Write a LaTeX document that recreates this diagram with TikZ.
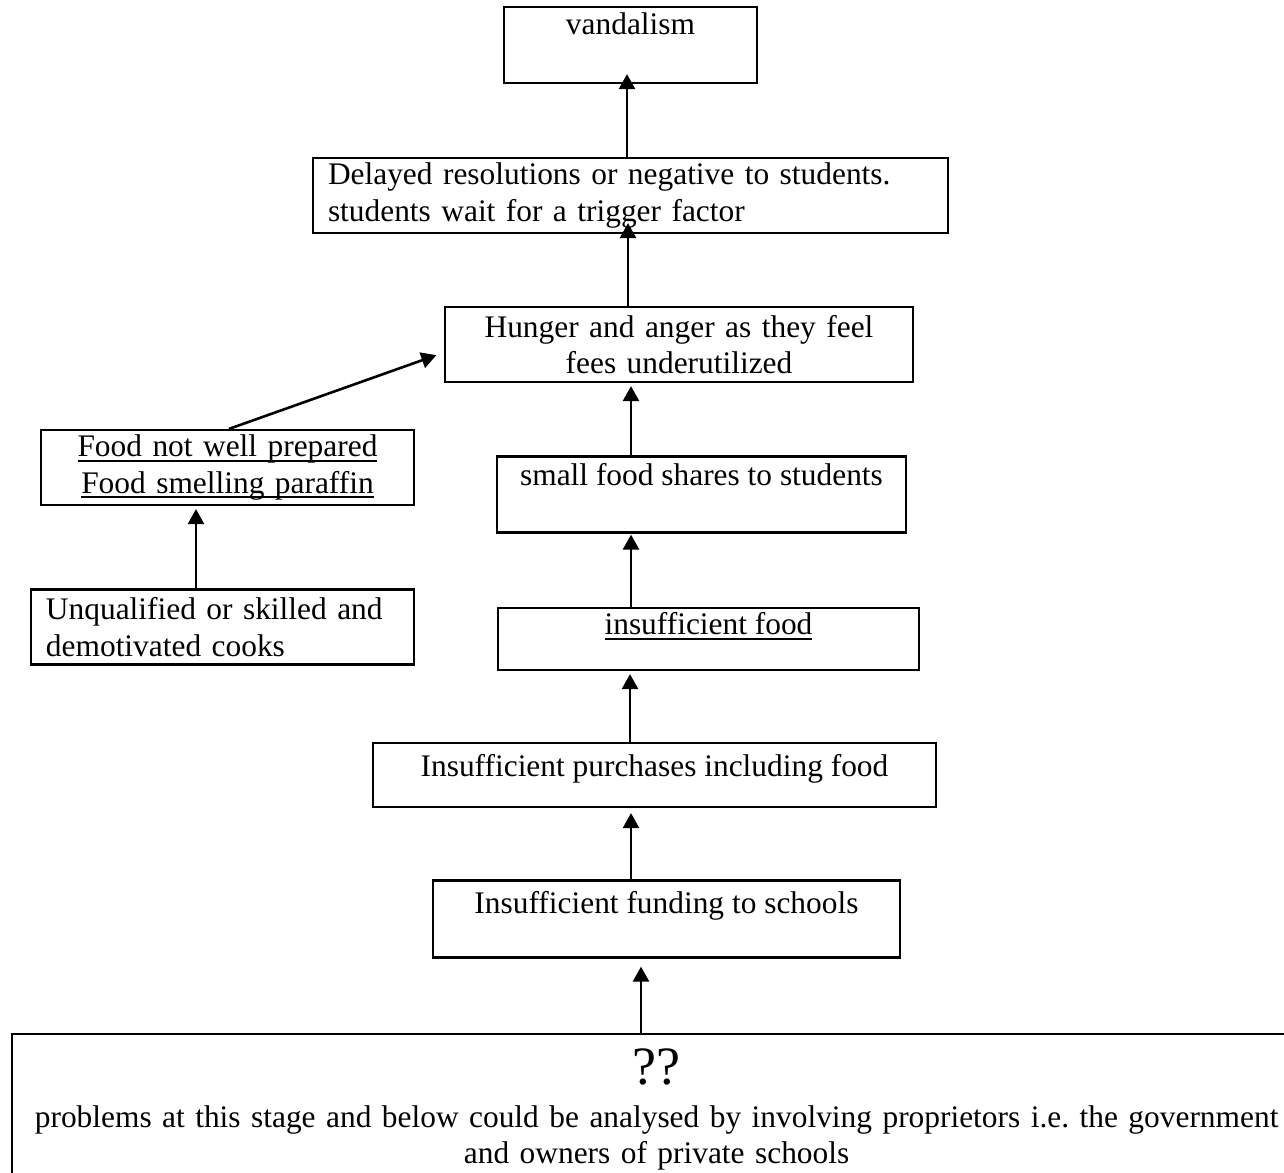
\documentclass[tikz,border=0pt]{standalone}
\usepackage{fontspec}
\setmainfont{Liberation Serif}
\usetikzlibrary{arrows.meta}

% underline at a fixed depth, as a word processor draws it
\newsavebox{\ulinebox}
\newcommand{\wordline}[1]{\leavevmode\sbox{\ulinebox}{#1}\rlap{\rule[-2.5pt]{\wd\ulinebox}{0.9pt}}\usebox{\ulinebox}}

\begin{document}
\begin{tikzpicture}[
        x=0.5pt, y=-0.5pt,
        every node/.style={font=\fontsize{15.7pt}{18.25pt}\selectfont\frenchspacing},
        box/.style={draw, line width=1.1pt, inner xsep=7.5pt, inner ysep=1pt},
        lift/.style={text height=11pt, text depth=#1},
        arrow/.style={-{Triangle[length=7.5pt, width=8pt]}, line width=1.3pt, shorten >=1.5pt}
    ]
    \useasboundingbox (0,0) rectangle (1284,1172);

    % Nodes
    \node [box, lift=21.5pt, minimum width=126.5pt, minimum height=38pt] (vandal) at (630.5,45) {vandalism};
    \node [box, align=left, text width=302.5pt, minimum height=37.5pt] (delay) at (630.5,195.5) {Delayed resolutions or negative to students.\\ students wait for a trigger factor};
    \node [box, align=center, text width=219pt, minimum height=37.5pt] (hunger) at (679,344.5) {Hunger and anger as they feel\\ fees underutilized};
    \node [box, align=center, text width=171.5pt, minimum height=37.5pt] (food) at (227.5,467.5) {\wordline{Food not well prepared}\\ \wordline{Food smelling paraffin}};
    \node [box, align=left, text width=176.5pt, minimum height=37.5pt] (cooks) at (222.5,627) {Unqualified or skilled and\\ demotivated cooks};
    \node [box, lift=20.5pt, minimum width=204.5pt, minimum height=38pt] (shares) at (701.5,494.5) {small food shares to students};
    \node [box, lift=15.5pt, minimum width=210.5pt, minimum height=31pt] (insuff) at (708.5,639) {\wordline{insufficient food}};
    \node [box, lift=10pt, minimum width=281.5pt, minimum height=32pt] (purchase) at (654.5,775) {Insufficient purchases including food};
    \node [box, lift=17pt, minimum width=233.5pt, minimum height=38.5pt] (funding) at (666.5,919) {Insufficient funding to schools};
    \node [box, align=center, anchor=north west, text width=629.5pt, inner ysep=7.5pt] (owners) at (11,1033)
        {{\fontsize{27pt}{30pt}\selectfont ??}\\[3pt]
         problems at this stage and below could be analysed by involving proprietors i.e. the government\\
         and owners of private schools};

    % columns of the arrows
    \coordinate (colA) at (627,0);
    \coordinate (colB) at (628,0);
    \coordinate (colC) at (631,0);
    \coordinate (colD) at (630,0);
    \coordinate (colE) at (196,0);
    \coordinate (colF) at (641,0);
    \coordinate (colG) at (229,0);

    % Arrows
    \draw[arrow, shorten >=-5pt] (delay.north -| colA) -- (vandal.south -| colA);
    \draw[arrow, shorten >=-5.5pt] (hunger.north -| colB) -- (delay.south -| colB);
    \draw[arrow] (shares.north -| colC) -- (hunger.south -| colC);
    \draw[arrow, shorten >=4pt] (food.north -| colG) -- ([yshift=-4pt]hunger.west);
    \draw[arrow] (cooks.north -| colE) -- (food.south -| colE);
    \draw[arrow, shorten >=0.5pt] (insuff.north -| colC) -- (shares.south -| colC);
    \draw[arrow] (purchase.north -| colD) -- (insuff.south -| colD);
    \draw[arrow, shorten >=2.5pt] (funding.north -| colC) -- (purchase.south -| colC);
    \draw[arrow, shorten >=4pt] (owners.north -| colF) -- (funding.south -| colF);

\end{tikzpicture}
\end{document}
